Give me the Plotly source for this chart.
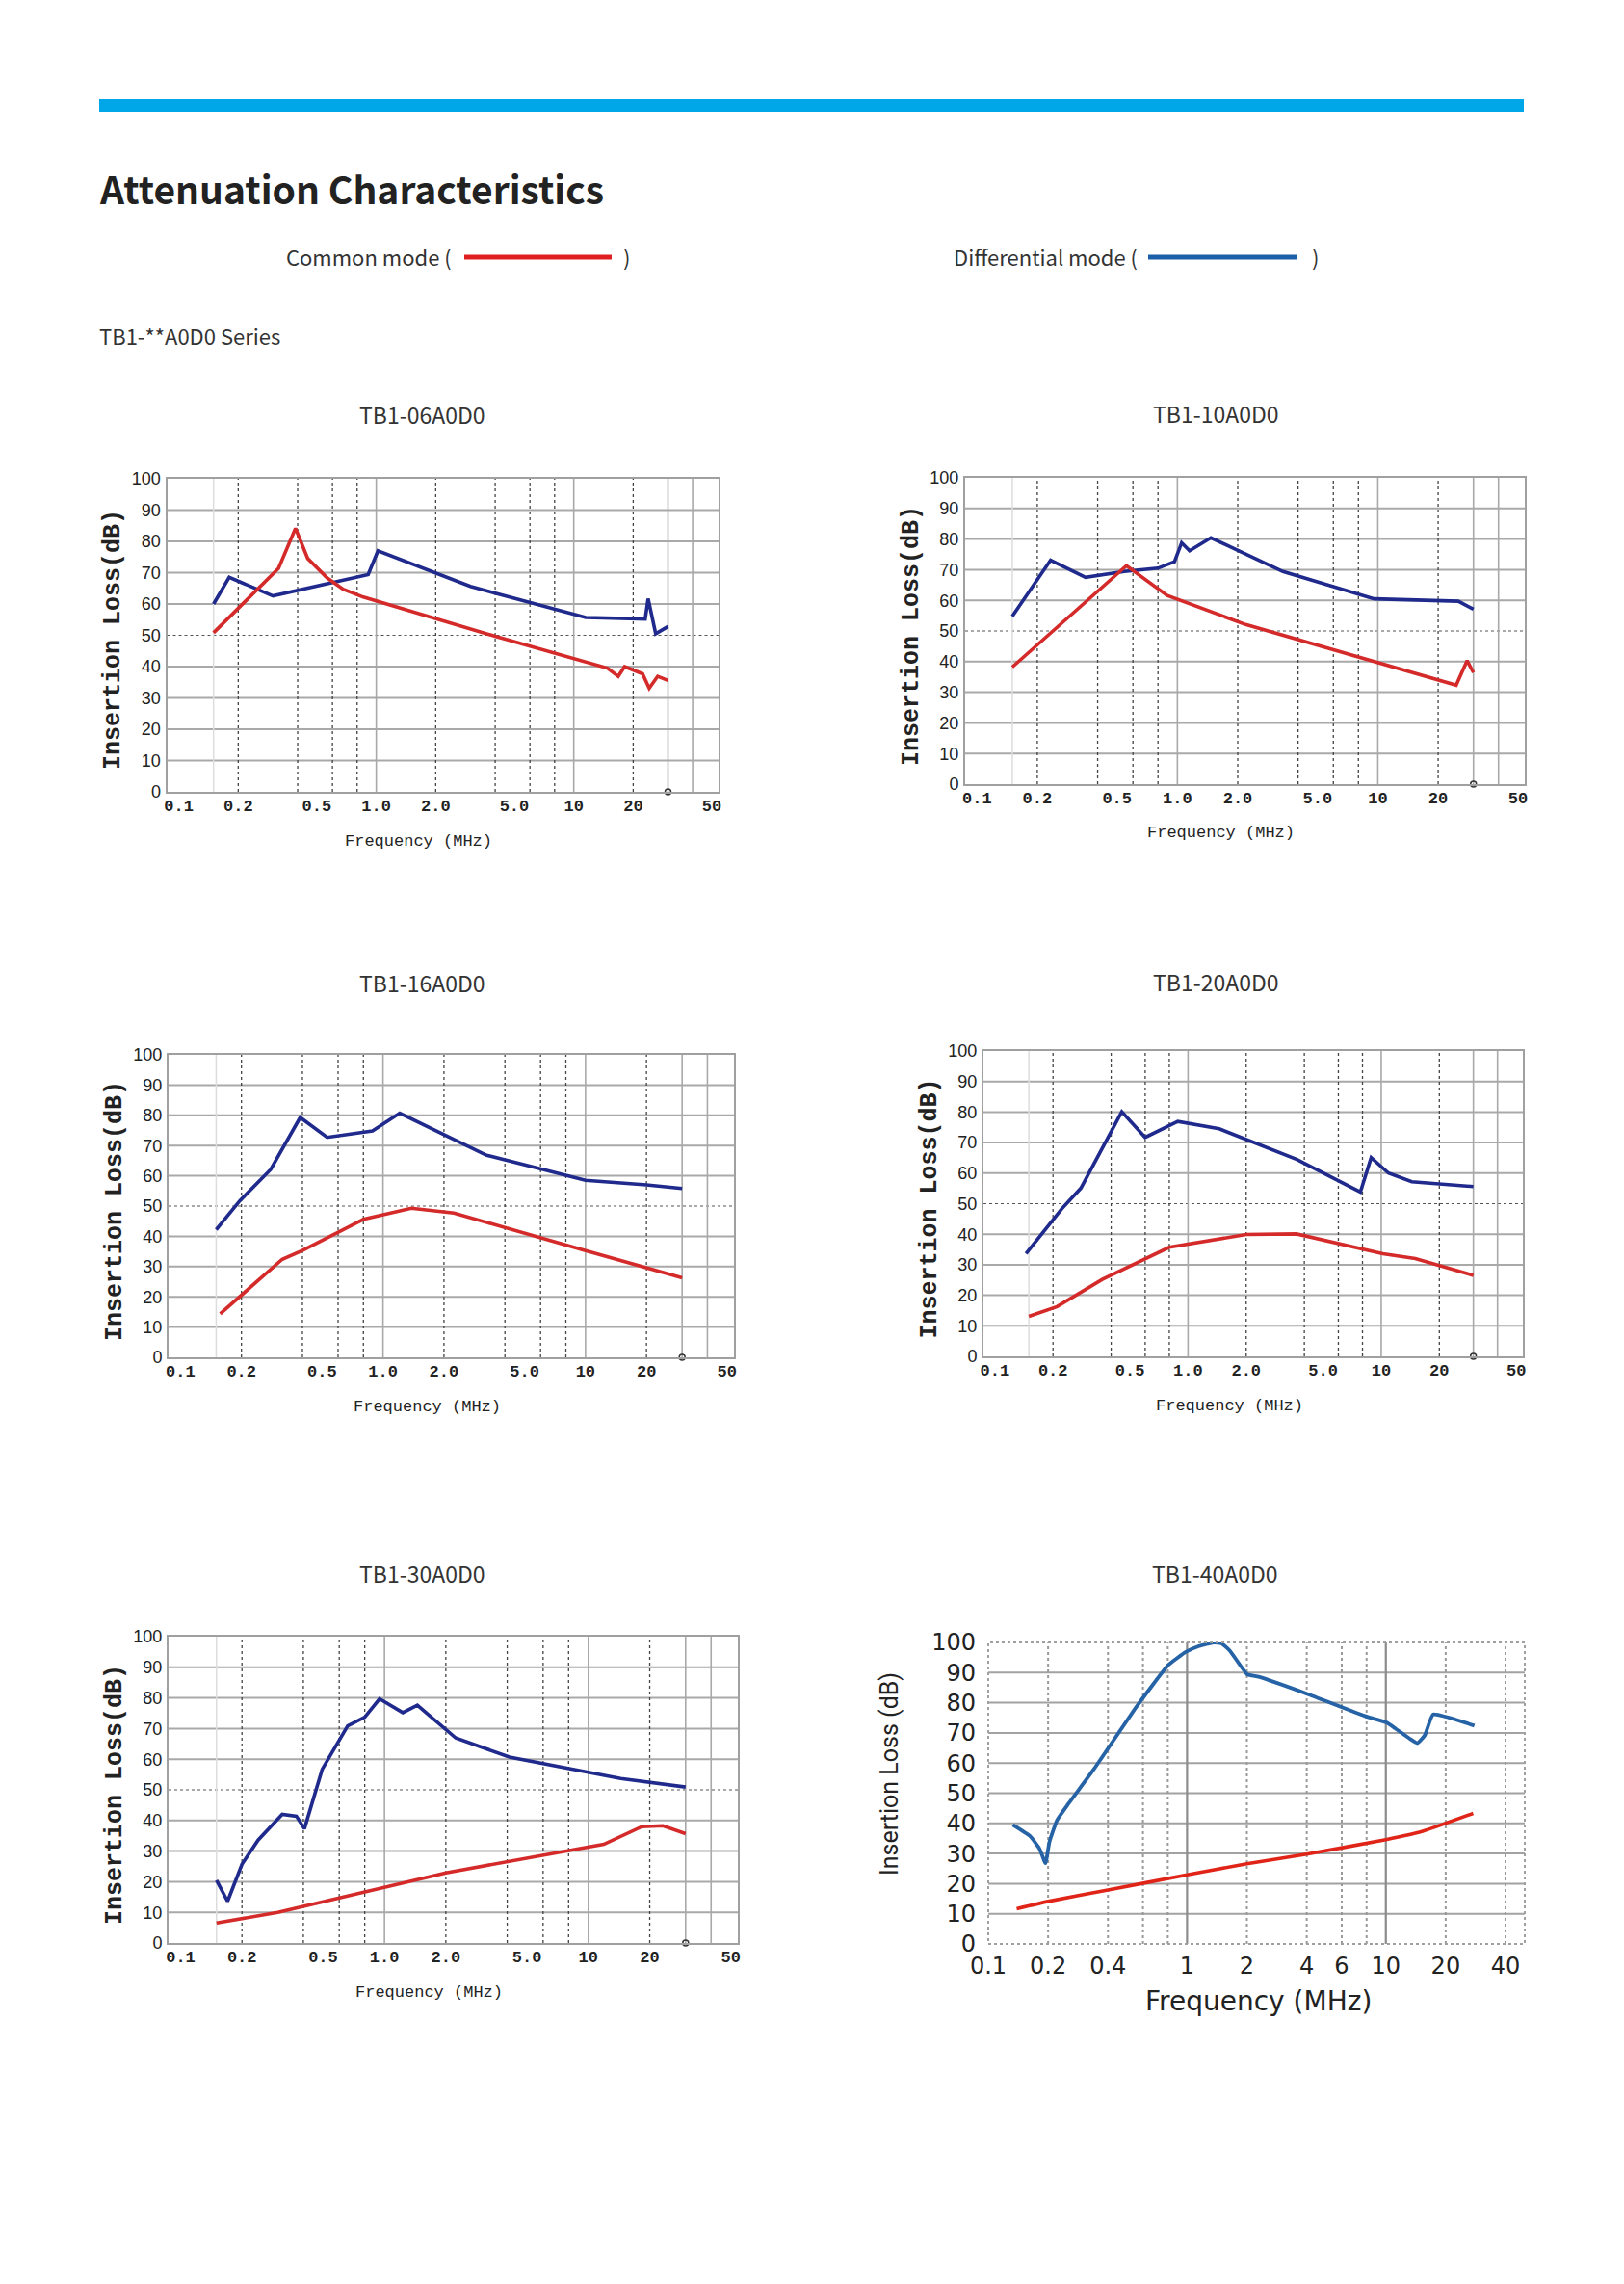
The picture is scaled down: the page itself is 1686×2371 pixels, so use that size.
import math
import plotly.graph_objects as go

W, H = 1686, 2371
OFF = 8  # the page body margin shifts the figure by this many pixels

# ---------------- data (frequency in MHz, insertion loss in dB) ----------------
models = ["TB1-06A0D0", "TB1-10A0D0", "TB1-16A0D0", "TB1-20A0D0", "TB1-30A0D0", "TB1-40A0D0"]

f06_dm = [0.15, 0.18, 0.30, 0.91, 1.02, 3.0, 11.5, 23.0, 23.8, 26.0, 30.0]
il06_dm = [60.0, 68.5, 62.6, 69.4, 77.0, 65.6, 55.7, 55.2, 61.7, 50.5, 52.8]
f06_cm = [0.15, 0.32, 0.39, 0.45, 0.565, 0.68, 0.86, 2.0, 4.0, 14.8, 16.8, 18.1, 22.3, 24.1, 26.6, 30.0]
il06_cm = [50.8, 71.4, 84.2, 74.5, 68.3, 64.7, 62.2, 55.4, 49.7, 39.5, 36.9, 40.0, 37.7, 33.1, 36.9, 35.6]

f10_dm = [0.15, 0.233, 0.348, 0.543, 0.8, 0.967, 1.05, 1.15, 1.47, 3.36, 9.6, 25.2, 30.0]
il10_dm = [54.8, 73.1, 67.5, 69.4, 70.5, 72.6, 78.8, 76.2, 80.4, 69.4, 60.5, 59.7, 57.1]
f10_cm = [0.15, 0.557, 0.89, 2.19, 24.6, 27.9, 30.0]
il10_cm = [38.2, 71.3, 61.6, 52.1, 32.3, 40.3, 36.4]

f16_dm = [0.15, 0.196, 0.279, 0.39, 0.53, 0.887, 1.21, 3.25, 10.0, 20.0, 30.0]
il16_dm = [42.2, 51.7, 62.1, 79.3, 72.7, 74.8, 80.7, 66.8, 58.5, 57.0, 55.8]
f16_cm = [0.157, 0.318, 0.4, 0.8, 1.38, 2.24, 10.0, 30.0]
il16_cm = [14.4, 32.4, 35.3, 45.6, 49.3, 47.7, 35.3, 26.3]

f20_dm = [0.145, 0.222, 0.279, 0.454, 0.6, 0.885, 1.45, 3.66, 7.8, 8.87, 10.9, 14.4, 30.0]
il20_dm = [33.6, 48.3, 55.1, 80.1, 71.7, 76.9, 74.5, 64.5, 53.8, 65.1, 60.0, 57.2, 55.6]
f20_cm = [0.15, 0.21, 0.36, 0.6, 0.8, 2.0, 3.64, 10.2, 15.0, 30.0]
il20_cm = [13.1, 16.3, 25.2, 32.0, 35.7, 39.9, 40.1, 33.6, 32.0, 26.5]

f30_dm = [0.15, 0.17, 0.2, 0.24, 0.315, 0.37, 0.405, 0.495, 0.66, 0.8, 0.946, 1.23, 1.45, 2.24, 4.1, 14.4, 30.0]
il30_dm = [20.5, 13.6, 25.7, 33.6, 42.0, 41.4, 37.3, 56.7, 70.9, 73.7, 79.7, 75.2, 77.6, 66.9, 60.7, 53.7, 50.9]
f30_cm = [0.15, 0.3, 2.0, 11.9, 18.3, 23.2, 30.0]
il30_cm = [6.5, 10.0, 22.9, 32.2, 38.0, 38.3, 35.7]

f40_dm = [0.133, 0.162, 0.181, 0.194, 0.203, 0.222, 0.253, 0.341, 0.557, 0.807, 0.99, 1.15, 1.36, 1.49,
          1.64, 2.01, 2.29, 4.0, 7.85, 10.1, 11.2, 13.1, 14.4, 15.7, 17.3, 27.9]
il40_dm = [39.5, 35.8, 31.6, 26.8, 33.8, 41.1, 46.5, 58.1, 78.7, 92.6, 96.9, 98.8, 100.0, 99.7,
           97.3, 89.4, 88.6, 83.0, 75.6, 73.4, 71.4, 68.2, 66.6, 69.2, 76.1, 72.4]
f40_cm = [0.139, 0.2, 0.4, 1.0, 2.0, 4.0, 10.0, 15.2, 27.5]
il40_cm = [11.7, 14.1, 17.9, 22.9, 26.6, 29.8, 34.6, 37.3, 43.3]

series_dm = [(f06_dm, il06_dm), (f10_dm, il10_dm), (f16_dm, il16_dm),
             (f20_dm, il20_dm), (f30_dm, il30_dm), (f40_dm, il40_dm)]
series_cm = [(f06_cm, il06_cm), (f10_cm, il10_cm), (f16_cm, il16_cm),
             (f20_cm, il20_cm), (f30_cm, il30_cm), (f40_cm, il40_cm)]

# axis ticks
x_ticks_a = [0.1, 0.2, 0.5, 1, 2, 5, 10, 20, 50]
x_ticktext_a = ["0.1", "0.2", "0.5", "1.0", "2.0", "5.0", "10", "20", "50"]
x_ticks_b = [0.1, 0.2, 0.4, 1, 2, 4, 6, 10, 20, 40]
x_ticktext_b = ["0.1", "0.2", "0.4", "1", "2", "4", "6", "10", "20", "40"]
y_ticks = [0, 10, 20, 30, 40, 50, 60, 70, 80, 90, 100]

# visible frequency span of the plot frames (MHz)
span_a = (0.0873, 54.1)   # scanned charts: frame slightly wider than 0.1-50
span_b = (0.1, 50.0)      # spreadsheet chart

# grid line positions
grid_dash_a = [0.2, 0.4, 0.6, 0.8, 2, 4, 6, 8, 20]
grid_solid_a = [1, 10, 30, 40]
grid_faint_a = [0.15]
grid_dash_b = [0.2, 0.4, 0.6, 0.8, 2, 4, 6, 8, 20, 40]
grid_solid_b = [1, 10]
grid_h = [10, 20, 30, 40, 60, 70, 80, 90]
grid_h_mid = [50]
marker_f = [30]

# ---------------- layout geometry (pixels) ----------------
# plot boxes: left, right, top, bottom
boxes = [
    (173.5, 746, 497, 822),
    (1002, 1583, 496, 814),
    (175, 762, 1095, 1409),
    (1021, 1581, 1091, 1408),
    (175, 766, 1699, 2017),
    (1026, 1583, 1705, 2018),
]
title_pos = [(438, 430), (1262, 429), (438, 1020), (1262, 1019), (438, 1633), (1261, 1633)]

RED_A, BLUE_A = "#d42a2a", "#1f2a8c"
RED_B, BLUE_B = "#e02418", "#2563a6"


def px(x):
    return (x - OFF) / W


def py(y):
    return 1 - (y - OFF) / H


fig = go.Figure()
annotations = []
shapes = []

for i in range(6):
    k = "" if i == 0 else str(i + 1)
    xa, ya = "x" + k, "y" + k
    l, r, t, b = boxes[i]
    excel = (i == 5)
    x0s, x1s = span_b if excel else span_a

    def gl(xs, ys, color, width, dash="solid"):
        fig.add_trace(go.Scatter(x=xs, y=ys, mode="lines", xaxis=xa, yaxis=ya,
                                 line=dict(color=color, width=width, dash=dash),
                                 hoverinfo="skip", showlegend=False))

    if not excel:
        for v in grid_h:
            gl([x0s, x1s], [v, v], "#a9a9a9", 2)
        for v in grid_h_mid:
            gl([x0s, x1s], [v, v], "#555555", 1.2, "dot")
        for v in grid_faint_a:
            gl([v, v], [0, 100], "#dddddd", 1.5)
        for v in grid_solid_a:
            gl([v, v], [0, 100], "#a9a9a9", 1.6)
        for v in grid_dash_a:
            gl([v, v], [0, 100], "#444444", 1.3, "dot")
    else:
        for v in grid_h + grid_h_mid:
            gl([x0s, x1s], [v, v], "#a2a2a2", 2)
        for v in grid_solid_b:
            gl([v, v], [0, 100], "#8c8c8c", 2.2)
        for v in grid_dash_b:
            gl([v, v], [0, 100], "#999999", 2, "dot")

    fdm, vdm = series_dm[i]
    fcm, vcm = series_cm[i]
    if excel:
        fig.add_trace(go.Scatter(x=fdm, y=vdm, mode="lines", xaxis=xa, yaxis=ya,
                                 line=dict(color=BLUE_B, width=3.8, shape="spline", smoothing=0.4),
                                 name="Differential mode", showlegend=False))
        fig.add_trace(go.Scatter(x=fcm, y=vcm, mode="lines", xaxis=xa, yaxis=ya,
                                 line=dict(color=RED_B, width=3.6, shape="spline", smoothing=0.4),
                                 name="Common mode", showlegend=False))
    else:
        fig.add_trace(go.Scatter(x=fdm, y=vdm, mode="lines", xaxis=xa, yaxis=ya,
                                 line=dict(color=BLUE_A, width=3.6),
                                 name="Differential mode", showlegend=False))
        fig.add_trace(go.Scatter(x=fcm, y=vcm, mode="lines", xaxis=xa, yaxis=ya,
                                 line=dict(color=RED_A, width=3.6),
                                 name="Common mode", showlegend=False))
        fig.add_trace(go.Scatter(x=marker_f, y=[0], mode="markers", xaxis=xa, yaxis=ya,
                                 marker=dict(symbol="circle-open", size=6, color="#333333",
                                             line=dict(width=1.5)),
                                 cliponaxis=False, hoverinfo="skip", showlegend=False))

    xdom = [px(l), px(r)]
    ydom = [py(b), py(t)]
    xrange = [math.log10(x0s), math.log10(x1s)]
    if not excel:
        xaxis = dict(type="log", range=xrange, domain=xdom, anchor=ya,
                     showgrid=False, zeroline=False, showline=True, mirror=True, automargin=False,
                     linecolor="#a0a0a0", linewidth=2, ticks="",
                     tickvals=x_ticks_a, ticktext=x_ticktext_a, ticklabelstandoff=-2,
                     tickfont=dict(family="Liberation Mono", size=17, color="#222222", weight="bold"))
        yaxis = dict(range=[0, 100], domain=ydom, anchor=xa, showgrid=False, zeroline=False,
                     showline=True, mirror=True, linecolor="#a0a0a0", linewidth=2, ticks="",
                     tickvals=y_ticks, ticklabelstandoff=1, automargin=False,
                     tickfont=dict(family="Liberation Sans", size=18, color="#222222"))
    else:
        xaxis = dict(type="log", range=xrange, domain=xdom, anchor=ya,
                     showgrid=False, zeroline=False, showline=False, ticks="", automargin=False,
                     tickvals=x_ticks_b, ticktext=x_ticktext_b, ticklabelstandoff=6,
                     tickfont=dict(family="DejaVu Sans", size=24, color="#222222"))
        yaxis = dict(range=[0, 100], domain=ydom, anchor=xa, showgrid=False, zeroline=False,
                     showline=False, ticks="", tickvals=y_ticks, ticklabelstandoff=12, automargin=False,
                     tickfont=dict(family="DejaVu Sans", size=24, color="#222222"))
        shapes.append(dict(type="rect", xref=xa + " domain", yref=ya + " domain",
                           x0=0, x1=1, y0=0, y1=1, line=dict(color="#a0a0a0", width=2, dash="dot")))
    fig.update_layout(**{"xaxis" + k: xaxis, "yaxis" + k: yaxis})

    # chart title
    tx, ty = title_pos[i]
    annotations.append(dict(text=models[i], x=px(tx), y=py(ty), xref="paper", yref="paper",
                            showarrow=False, xanchor="center", yanchor="middle",
                            font=dict(family="Noto Sans CJK KR", size=23, color="#333333")))
    # axis titles
    if not excel:
        annotations.append(dict(text="Insertion Loss(dB)", x=px(l - 56), y=py((t + b) / 2 + 5),
                                xref="paper", yref="paper", showarrow=False, textangle=-90,
                                xanchor="center", yanchor="middle",
                                font=dict(family="Liberation Mono", size=25, color="#222222", weight="bold")))
        annotations.append(dict(text="Frequency (MHz)", x=px((l + r) / 2 - 25), y=py(b + 51),
                                xref="paper", yref="paper", showarrow=False,
                                xanchor="center", yanchor="middle",
                                font=dict(family="Liberation Mono", size=17, color="#222222")))
    else:
        annotations.append(dict(text="Insertion Loss (dB)", x=px(923), y=py(1842),
                                xref="paper", yref="paper", showarrow=False, textangle=-90,
                                xanchor="center", yanchor="middle",
                                font=dict(family="Liberation Sans Narrow, Roboto", size=25, color="#222222")))
        annotations.append(dict(text="Frequency (MHz)", x=px(1306), y=py(2077),
                                xref="paper", yref="paper", showarrow=False,
                                xanchor="center", yanchor="middle",
                                font=dict(family="DejaVu Sans", size=28, color="#222222")))

# ---------------- page furniture ----------------
shapes.append(dict(type="rect", xref="paper", yref="paper", x0=px(103), x1=px(1582),
                   y0=py(116), y1=py(103), fillcolor="#00a7e8", line=dict(width=0)))
shapes.append(dict(type="line", xref="paper", yref="paper", x0=px(482), x1=px(635),
                   y0=py(267), y1=py(267), line=dict(color="#e02020", width=5)))
shapes.append(dict(type="line", xref="paper", yref="paper", x0=px(1192), x1=px(1346),
                   y0=py(267), y1=py(267), line=dict(color="#1a5fa8", width=5)))

page_font = "Noto Sans CJK KR"
annotations += [
    dict(text="<b>Attenuation Characteristics</b>", x=px(101), y=py(195), xref="paper", yref="paper",
         showarrow=False, xanchor="left", yanchor="middle",
         font=dict(family=page_font, size=39, color="#222222")),
    dict(text="Common mode (", x=px(295), y=py(266), xref="paper", yref="paper",
         showarrow=False, xanchor="left", yanchor="middle",
         font=dict(family=page_font, size=22, color="#333333")),
    dict(text=")", x=px(645), y=py(266), xref="paper", yref="paper",
         showarrow=False, xanchor="left", yanchor="middle",
         font=dict(family=page_font, size=22, color="#333333")),
    dict(text="Differential mode (", x=px(988), y=py(266), xref="paper", yref="paper",
         showarrow=False, xanchor="left", yanchor="middle",
         font=dict(family=page_font, size=22, color="#333333")),
    dict(text=")", x=px(1360), y=py(266), xref="paper", yref="paper",
         showarrow=False, xanchor="left", yanchor="middle",
         font=dict(family=page_font, size=22, color="#333333")),
    dict(text="TB1-**A0D0 Series", x=px(101), y=py(348), xref="paper", yref="paper",
         showarrow=False, xanchor="left", yanchor="middle",
         font=dict(family=page_font, size=22, color="#333333")),
]

fig.update_layout(width=W, height=H, margin=dict(l=0, r=0, t=0, b=0, autoexpand=False),
                  paper_bgcolor="white", plot_bgcolor="white",
                  showlegend=False, annotations=annotations, shapes=shapes)

fig.write_html("out.html")
